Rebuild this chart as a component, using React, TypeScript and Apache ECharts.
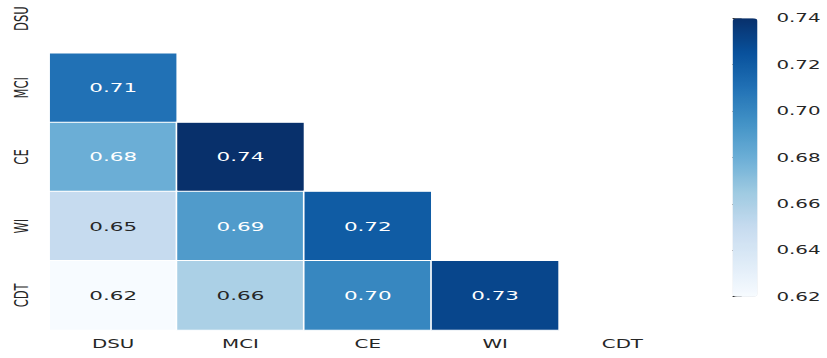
import React, { useEffect, useRef } from "react";
import * as echarts from "echarts";

// Variables shown on both axes (lower triangle of the correlation matrix)
const labels = ["DSU", "MCI", "CE", "WI", "CDT"];

// Lower-triangle values, one row per variable (row i holds columns 0..i-1)
const rowMCI = [0.71];
const rowCE = [0.68, 0.74];
const rowWI = [0.65, 0.69, 0.72];
const rowCDT = [0.62, 0.66, 0.70, 0.73];
const rows = [[], rowMCI, rowCE, rowWI, rowCDT];

// Colour bar range and tick step
const colorMin = 0.62;
const colorMax = 0.74;
const colorStep = 0.02;

// matplotlib "Blues" colormap stops
const blues = [
  "#f7fbff", "#deebf7", "#c6dbef", "#9ecae1", "#6baed6",
  "#4292c6", "#2171b5", "#08519c", "#08306b",
];

// The figure is drawn narrow and stretched sideways; its top row is cut off.
// The drawing surface is a bit wider than the visible page so that the
// colour-bar labels never push the layout inwards.
const PAGE_W = 827;
const PAGE_H = 358;
const BASE_W = 501;
const STRETCH = PAGE_W / BASE_W;
const CANVAS_W = 600;
const SHIFT_UP = 16;
const CHART_H = PAGE_H + SHIFT_UP;

const FONT = "DejaVu Sans";
const DARK = "#262626";

export default function App() {
  const ref = useRef<HTMLDivElement>(null);

  useEffect(() => {
    if (!ref.current) return;
    const chart = echarts.init(ref.current, undefined, { renderer: "svg" });

    const data = rows.flatMap((vals, r) =>
      vals.map((v, c) => ({
        value: [c, r, v],
        label: { color: v < 0.67 ? DARK : "#ffffff" },
      }))
    );

    const barTop = 18.3 + SHIFT_UP;
    const barLeft = 443.8;
    const barW = 15.15;
    const barH = 278.4;

    chart.setOption({
      animation: false,
      backgroundColor: "#ffffff",
      textStyle: { fontFamily: FONT },
      grid: [
        { left: 30, width: 385.6, top: 0, bottom: 28 },
        { left: barLeft, top: barTop, width: barW, height: barH },
      ],
      xAxis: [
        {
          type: "category",
          data: labels,
          gridIndex: 0,
          position: "bottom",
          axisLine: { show: false },
          axisTick: { show: false },
          splitLine: { show: false },
          axisLabel: { fontSize: 12, color: DARK, fontFamily: FONT, margin: 8 },
        },
        { type: "value", gridIndex: 1, show: false },
      ],
      yAxis: [
        {
          type: "category",
          data: labels,
          inverse: true,
          gridIndex: 0,
          axisLine: { show: false },
          axisTick: { show: false },
          splitLine: { show: false },
          axisLabel: {
            fontSize: 11.5,
            color: DARK,
            fontFamily: FONT,
            rotate: 90,
            margin: 11,
          },
        },
        {
          type: "value",
          gridIndex: 1,
          position: "right",
          min: colorMin,
          max: colorMax,
          interval: colorStep,
          axisLine: { show: false },
          splitLine: { show: false },
          axisTick: {
            show: true,
            length: 5.5,
            lineStyle: { color: "#333333", width: 1 },
          },
          axisLabel: {
            fontSize: 12,
            color: DARK,
            fontFamily: FONT,
            margin: 11.4,
            formatter: (v: number) => v.toFixed(2),
          },
        },
      ],
      visualMap: {
        type: "continuous",
        min: colorMin,
        max: colorMax,
        seriesIndex: 0,
        calculable: false,
        hoverLink: false,
        orient: "vertical",
        left: barLeft,
        top: barTop,
        itemWidth: barW,
        itemHeight: barH,
        padding: 0,
        inRange: { color: blues },
      },
      series: [
        {
          type: "heatmap",
          xAxisIndex: 0,
          yAxisIndex: 0,
          data,
          itemStyle: { borderColor: "#ffffff", borderWidth: 1 },
          label: {
            show: true,
            fontSize: 13,
            fontFamily: FONT,
            formatter: (p: any) => (p.value[2] as number).toFixed(2),
          },
          emphasis: { disabled: true },
        },
      ],
    });

    return () => chart.dispose();
  }, []);

  return (
    <div
      style={{
        position: "fixed",
        left: 0,
        top: 0,
        width: PAGE_W,
        height: PAGE_H,
        overflow: "hidden",
        background: "#ffffff",
      }}
    >
      <div
        ref={ref}
        style={{
          position: "absolute",
          left: 0,
          top: -SHIFT_UP,
          width: CANVAS_W,
          height: CHART_H,
          transform: `scaleX(${STRETCH})`,
          transformOrigin: "0 0",
        }}
      />
    </div>
  );
}
